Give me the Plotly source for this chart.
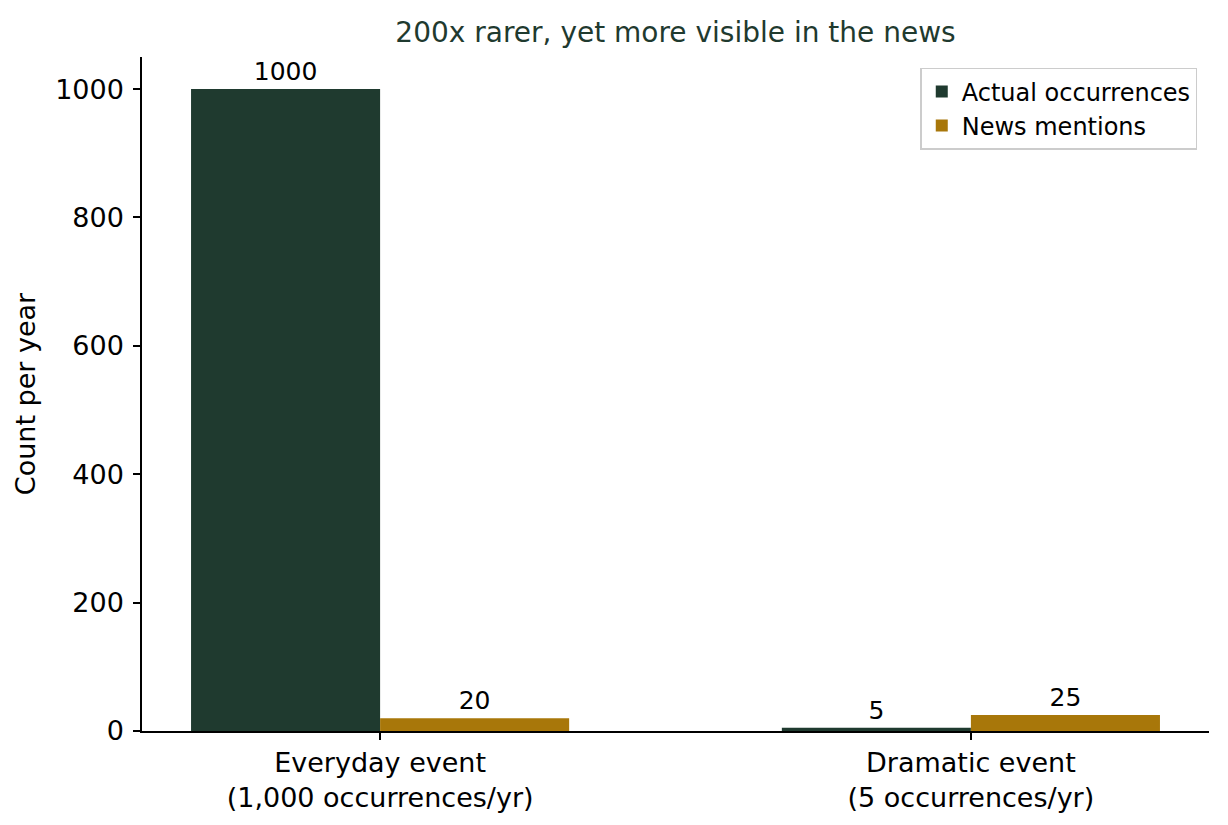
import plotly.graph_objects as go

# Data
categories = ["Everyday event<br>(1,000 occurrences/yr)", "Dramatic event<br>(5 occurrences/yr)"]
actual = [1000, 5]
news = [20, 25]
series_names = ["Actual occurrences", "News mentions"]

DARK = "#1f3a2f"
GOLD = "#a8770a"
FONT = "DejaVu Sans"

x_pos = list(range(len(categories)))
bar_w = 0.32

# page body has an 8px margin, so the figure is a bit smaller than the window
W, H = 1220, 817

fig = go.Figure()
fig.add_trace(
    go.Bar(
        x=[p - bar_w / 2 for p in x_pos],
        y=actual,
        width=bar_w,
        name=series_names[0],
        marker=dict(color=DARK, line=dict(width=0)),
        text=[str(v) for v in actual],
        textposition="outside",
        textfont=dict(family=FONT, size=25, color="black"),
        cliponaxis=False,
    )
)
fig.add_trace(
    go.Bar(
        x=[p + bar_w / 2 for p in x_pos],
        y=news,
        width=bar_w,
        name=series_names[1],
        marker=dict(color=GOLD, line=dict(width=0)),
        text=[str(v) for v in news],
        textposition="outside",
        textfont=dict(family=FONT, size=25, color="black"),
        cliponaxis=False,
    )
)

axis_style = dict(
    showline=True,
    linecolor="black",
    linewidth=1.5,
    ticks="outside",
    ticklen=7,
    tickwidth=1.5,
    tickcolor="black",
    showgrid=False,
    zeroline=False,
    tickfont=dict(family=FONT, size=27, color="black"),
)

fig.update_xaxes(range=[-0.403, 1.403], tickvals=x_pos, ticktext=categories, **axis_style)
fig.update_yaxes(
    range=[0, 1050],
    tickvals=[0, 200, 400, 600, 800, 1000],
    ticklabelstandoff=4,
    title=dict(text="Count per year", font=dict(family=FONT, size=27, color="black"), standoff=12),
    **axis_style,
)

fig.update_layout(
    width=W,
    height=H,
    title=dict(
        text="200x rarer, yet more visible in the news",
        font=dict(family=FONT, size=28, color=DARK),
        x=(134 + 1201) / 2 / W,
        xanchor="center",
        y=1 - 24 / H,
        yanchor="middle",
    ),
    barmode="overlay",
    plot_bgcolor="white",
    paper_bgcolor="white",
    showlegend=True,
    legend=dict(
        x=0.989,
        y=0.984,
        xanchor="right",
        yanchor="top",
        bgcolor="white",
        bordercolor="#cccccc",
        borderwidth=1.5,
        font=dict(family=FONT, size=24, color="black"),
    ),
    margin=dict(l=134, r=19, t=49, b=94),
)

fig.write_html("out.html")
